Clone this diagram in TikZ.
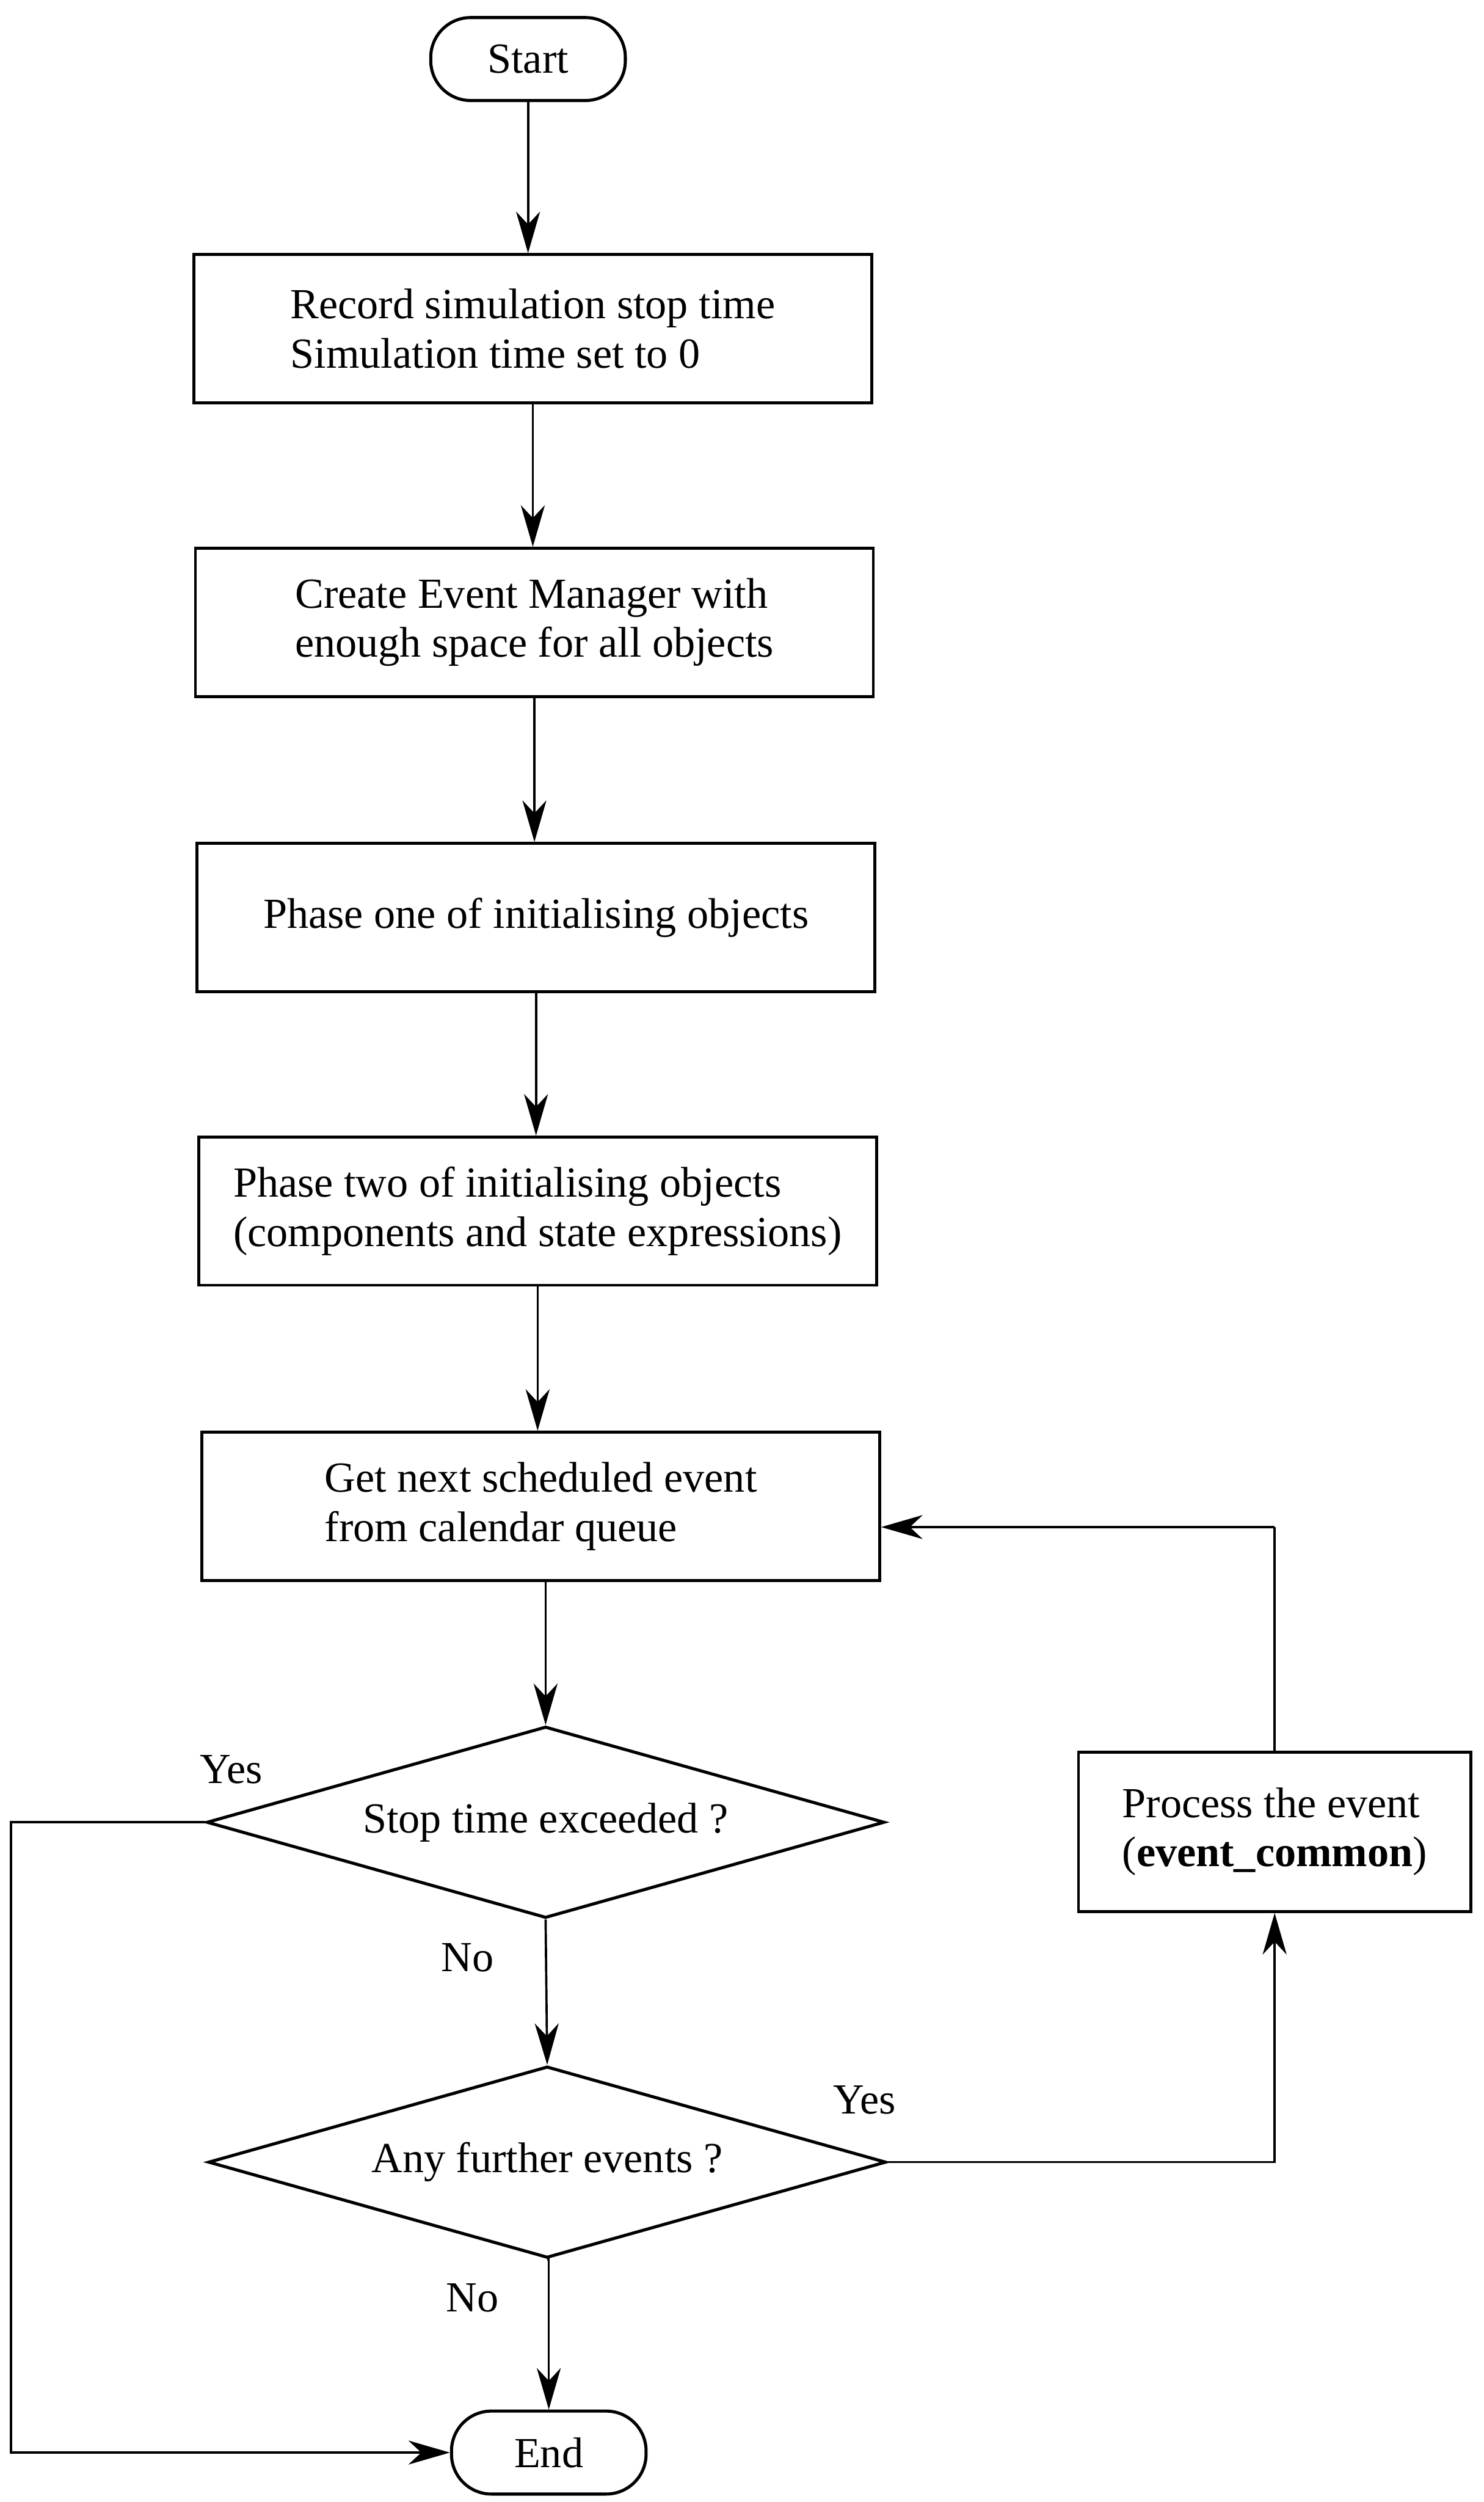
\documentclass[tikz,border=0pt]{standalone}
\usepackage{fontspec}
\setmainfont{Liberation Serif}
\usetikzlibrary{arrows.meta,shapes.geometric}
\begin{document}
\begin{tikzpicture}[x=0.02cm,y=-0.02cm,
  font=\fontsize{15.3}{17.5}\selectfont,
  terminal/.style={draw,line width=1.1pt,rounded corners=0.5cm,minimum width=2.44cm,minimum height=1.04cm,inner sep=0pt},
  stepbox/.style={draw,line width=1pt,minimum width=8.5cm,minimum height=1.86cm,align=left,inner sep=2pt},
  decision/.style={diamond,draw,line width=1.1pt,shape aspect=3.54,minimum width=8.5cm,minimum height=2.4cm,inner sep=0pt},
  flow/.style={line width=0.8pt,-{Stealth[length=0.52cm,width=0.3cm,inset=0.16cm]}},
  plain/.style={line width=0.8pt},
  lbl/.style={inner sep=0pt}]
\useasboundingbox (0,0) rectangle (930,1568);

% main sequence
\node[terminal] (start) at (331,37) {Start};
\node[stepbox] (b1) at (334,206) {Record simulation stop time\\Simulation time set to 0};
\node[stepbox] (b2) at (335,390) {Create Event Manager with\\enough space for all objects};
\node[stepbox] (b3) at (336,575) {Phase one of initialising objects};
\node[stepbox] (b4) at (337,759) {Phase two of initialising objects\\(components and state expressions)};
\node[stepbox] (b5) at (339,944) {Get next scheduled event\\from calendar queue};
\node[decision] (d1) at (342,1142) {Stop time exceeded ?};
\node[decision] (d2) at (343,1355) {Any further events ?};
\node[terminal] (end) at (344,1537) {End};

% event processing box of the loop
\node[draw,line width=1pt,minimum width=4.92cm,minimum height=2cm,align=left,inner sep=2pt] (proc) at (799,1148)
  {Process the event\\(\textbf{event\_common})};

% branch labels
\node[lbl] (y1) at (145,1109) {Yes};
\node[lbl] (n1) at (293,1227) {No};
\node[lbl] (y2) at (542,1316) {Yes};
\node[lbl] (n2) at (296,1440) {No};

% vertical flow
\draw[flow] (start.south) -- (start.south |- b1.north);
\draw[flow] (b1.south) -- (b1.south |- b2.north);
\draw[flow] (b2.south) -- (b2.south |- b3.north);
\draw[flow] (b3.south) -- (b3.south |- b4.north);
\draw[flow] (b4.south) -- (b4.south |- b5.north);
\draw[flow] (b5.south -| d1.north) -- (d1.north);
\draw[flow] (d1.south) -- (d2.north);
\draw[flow] (d2.south) -- (d2.south -| end.north) -- (end.north);

% stop time exceeded: straight to the end
\coordinate (yl) at (7,1142);
\draw[flow] (d1.west) -- (yl) |- (end.west);

% further events: process, then back to the queue
\coordinate (lp) at (799,957);
\draw[flow] (d2.east) -| (proc.south);
\draw[plain] (proc.north) -- (proc.north |- lp);
\draw[flow] (proc.north |- lp) -- (b5.east |- lp);
\end{tikzpicture}
\end{document}
